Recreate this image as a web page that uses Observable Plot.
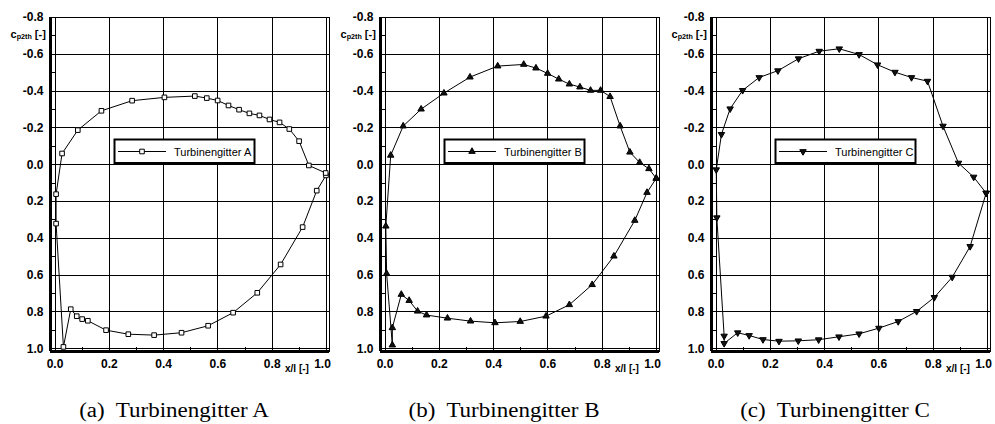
<!DOCTYPE html>
<html><head><meta charset="utf-8">
<script src="https://cdn.jsdelivr.net/npm/d3@7"></script>
<script src="https://cdn.jsdelivr.net/npm/@observablehq/plot@0.6"></script>
<style>
body{margin:0;background:#fff;}
#wrap{position:relative;width:995px;height:424px;overflow:hidden;background:#fff;}
.panel{position:absolute;top:0;}
.cap{position:absolute;top:400px;width:260px;font-family:"Liberation Serif","Times New Roman",serif;font-size:20px;line-height:20px;white-space:pre;text-align:center;color:#000;transform:scaleX(1.15);}
</style></head><body><div id="wrap"></div>
<script>
// ---- tick values ----
const xTicks = [0.0, 0.2, 0.4, 0.6, 0.8, 1.0];
const xMinor = [0.1, 0.3, 0.5, 0.7, 0.9];
const yTicks = [-0.8, -0.6, -0.4, -0.2, 0.0, 0.2, 0.4, 0.6, 0.8, 1.0];
const yMinor = [-0.7, -0.5, -0.3, -0.1, 0.1, 0.3, 0.5, 0.7, 0.9];
const xDomain = [-0.0166, 1.011];
const yDomain = [-0.8, 1.015];

// ---- series names / captions ----
const seriesNames = ["Turbinengitter A", "Turbinengitter B", "Turbinengitter C"];
const captions = ["(a)  Turbinengitter A", "(b)  Turbinengitter B", "(c)  Turbinengitter C"];

// ---- Turbinengitter A ----
const xA = [0.998, 0.964, 0.912, 0.831, 0.745, 0.656, 0.564, 0.466, 0.365, 0.270, 0.188, 0.121, 0.100, 0.080, 0.058, 0.031, 0.004, 0.004, 0.026, 0.084, 0.171, 0.284, 0.403, 0.515, 0.559, 0.599, 0.639, 0.678, 0.716, 0.753, 0.790, 0.827, 0.863, 0.899, 0.935, 0.997];
const yA = [0.058, 0.141, 0.339, 0.542, 0.696, 0.804, 0.875, 0.913, 0.926, 0.921, 0.899, 0.848, 0.839, 0.823, 0.785, 0.990, 0.320, 0.160, -0.061, -0.188, -0.293, -0.348, -0.366, -0.373, -0.362, -0.349, -0.322, -0.299, -0.279, -0.268, -0.246, -0.230, -0.194, -0.128, 0.004, 0.045];

// ---- Turbinengitter B ----
const xB = [0.999, 0.965, 0.920, 0.843, 0.763, 0.679, 0.593, 0.498, 0.405, 0.315, 0.230, 0.153, 0.120, 0.089, 0.060, 0.027, 0.027, 0.006, 0.003, 0.021, 0.067, 0.133, 0.217, 0.313, 0.415, 0.511, 0.556, 0.599, 0.640, 0.679, 0.718, 0.757, 0.794, 0.829, 0.866, 0.902, 0.938, 0.972, 0.999];
const yB = [0.074, 0.151, 0.303, 0.497, 0.652, 0.761, 0.823, 0.852, 0.859, 0.850, 0.834, 0.817, 0.796, 0.738, 0.705, 0.886, 0.980, 0.592, 0.334, -0.051, -0.210, -0.302, -0.389, -0.476, -0.536, -0.545, -0.525, -0.496, -0.465, -0.438, -0.422, -0.404, -0.404, -0.370, -0.210, -0.068, -0.012, 0.022, 0.074];

// ---- Turbinengitter C ----
const xC = [0.995, 0.936, 0.870, 0.804, 0.739, 0.671, 0.600, 0.527, 0.453, 0.378, 0.303, 0.232, 0.173, 0.122, 0.080, 0.030, 0.030, 0.003, 0.001, 0.020, 0.052, 0.098, 0.159, 0.228, 0.304, 0.380, 0.454, 0.527, 0.595, 0.659, 0.720, 0.779, 0.836, 0.893, 0.949, 0.995];
const yC = [0.154, 0.444, 0.611, 0.721, 0.797, 0.852, 0.888, 0.919, 0.935, 0.951, 0.957, 0.959, 0.950, 0.928, 0.913, 0.971, 0.931, 0.288, 0.027, -0.165, -0.304, -0.404, -0.474, -0.511, -0.576, -0.617, -0.630, -0.599, -0.543, -0.503, -0.474, -0.454, -0.210, -0.009, 0.067, 0.154];

const sansFont = "Liberation Sans, Arial, Helvetica, sans-serif";

function panel(xs, ys, sym, name) {
  const data = xs.map((x, i) => ({x, y: ys[i]}));
  const W = 331, H = 380, mL = 50, mR = 2, mT = 17, mB = 29;
  const innerW = W - mL - mR, innerH = H - mT - mB;
  const axisText = {fontSize: 12, fontWeight: "bold", fill: "#000", label: null};
  const svg = Plot.plot({
    width: W, height: H,
    marginLeft: mL, marginRight: mR, marginTop: mT, marginBottom: mB,
    style: {fontFamily: sansFont, fontSize: "12px", fontWeight: "bold", background: "transparent", overflow: "visible", color: "#000"},
    x: {domain: xDomain, axis: null},
    y: {domain: yDomain, reverse: true, axis: null},
    marks: [
      Plot.gridX(xTicks, {stroke: "#000", strokeOpacity: 1, strokeWidth: 1}),
      Plot.gridY(yTicks, {stroke: "#000", strokeOpacity: 1, strokeWidth: 1}),
      Plot.ruleY(yMinor, {insetRight: innerW - 5, stroke: "#000"}),
      Plot.ruleX(xMinor, {insetTop: innerH - 4, stroke: "#000"}),
      Plot.frame({stroke: "#000", strokeWidth: 1}),
      Plot.ruleX([xDomain[0]], {stroke: "#000", strokeWidth: 2.2}),
      Plot.ruleY([yDomain[1]], {stroke: "#000", strokeWidth: 2.2}),
      Plot.axisY(yTicks, {...axisText, tickSize: 0, tickPadding: 7, tickFormat: d => d.toFixed(1)}),
      Plot.axisX(xTicks.slice(0, -1), {...axisText, tickSize: 0, tickPadding: 8, tickFormat: d => d.toFixed(1)}),
      Plot.axisX(xTicks.slice(-1), {...axisText, tickSize: 0, tickPadding: 8, dx: -4, tickFormat: d => d.toFixed(1)}),
      Plot.line(data, {x: "x", y: "y", stroke: "#000", strokeWidth: 1}),
      Plot.dot(data, {x: "x", y: "y", symbol: sym.symbol, r: sym.r, fill: sym.fill, stroke: "#000", strokeWidth: 1, rotate: sym.rotate})
    ]
  });
  const s = d3.select(svg);
  // make grid lines, rules and frame crisp and black
  s.selectAll('g[aria-label="x-grid"], g[aria-label="y-grid"]')
    .attr("stroke", "#000").attr("stroke-opacity", 1);
  s.selectAll('g[aria-label="x-grid"] line, g[aria-label="y-grid"] line, g[aria-label="rule"] line, rect[aria-label="frame"], g[aria-label="frame"] rect')
    .attr("shape-rendering", "crispEdges");
  // y-axis label c_p2th [-]
  const yl = s.append("text").attr("x", 10.5).attr("y", 37.5).attr("text-anchor", "start")
    .attr("font-family", sansFont).attr("font-weight", "bold").attr("font-size", 11).attr("fill", "#000");
  yl.append("tspan").text("c");
  yl.append("tspan").attr("font-size", 7.2).attr("dy", 1.6).text("p2th");
  yl.append("tspan").attr("dy", -1.6).text(" [-]");
  // x-axis label x/l [-]
  s.append("text").attr("x", 285).attr("y", 371.5).attr("text-anchor", "start")
    .attr("font-family", sansFont).attr("font-weight", "bold").attr("font-size", 10).attr("fill", "#000")
    .text("x/l [-]");
  // legend
  const g = s.append("g");
  g.append("rect").attr("x", 114.5).attr("y", 139.5).attr("width", 140).attr("height", 23.5)
    .attr("fill", "#fff").attr("stroke", "#000").attr("stroke-width", 2);
  g.append("line").attr("x1", 118).attr("x2", 166).attr("y1", 151.5).attr("y2", 151.5)
    .attr("stroke", "#000").attr("stroke-width", 1);
  g.append("path").attr("d", d3.symbol(sym.d3type, Math.PI * sym.r * sym.r)())
    .attr("transform", `translate(142,151.5) rotate(${sym.rotate})`)
    .attr("fill", sym.fill).attr("stroke", "#000").attr("stroke-width", 1);
  g.append("text").attr("x", 174).attr("y", 155.5).attr("text-anchor", "start")
    .attr("font-family", sansFont).attr("font-weight", "normal").attr("font-size", 11).attr("fill", "#000").text(name);
  return svg;
}

const symbols = [
  {symbol: "square", d3type: d3.symbolSquare, r: 2.6, fill: "#fff", rotate: 0},
  {symbol: "triangle", d3type: d3.symbolTriangle, r: 2.4, fill: "#111", rotate: 0},
  {symbol: "triangle", d3type: d3.symbolTriangle, r: 2.4, fill: "#111", rotate: 180}
];
const series = [[xA, yA], [xB, yB], [xC, yC]];
const lefts = [0, 330, 661];
const wrap = document.getElementById("wrap");
series.forEach(([xs, ys], i) => {
  const svg = panel(xs, ys, symbols[i], seriesNames[i]);
  svg.classList.add("panel");
  svg.style.left = lefts[i] + "px";
  wrap.appendChild(svg);
  const cap = document.createElement("div");
  cap.className = "cap";
  cap.style.left = (lefts[i] + 174 - 130) + "px";
  cap.textContent = captions[i];
  wrap.appendChild(cap);
});
</script>
</body></html>
